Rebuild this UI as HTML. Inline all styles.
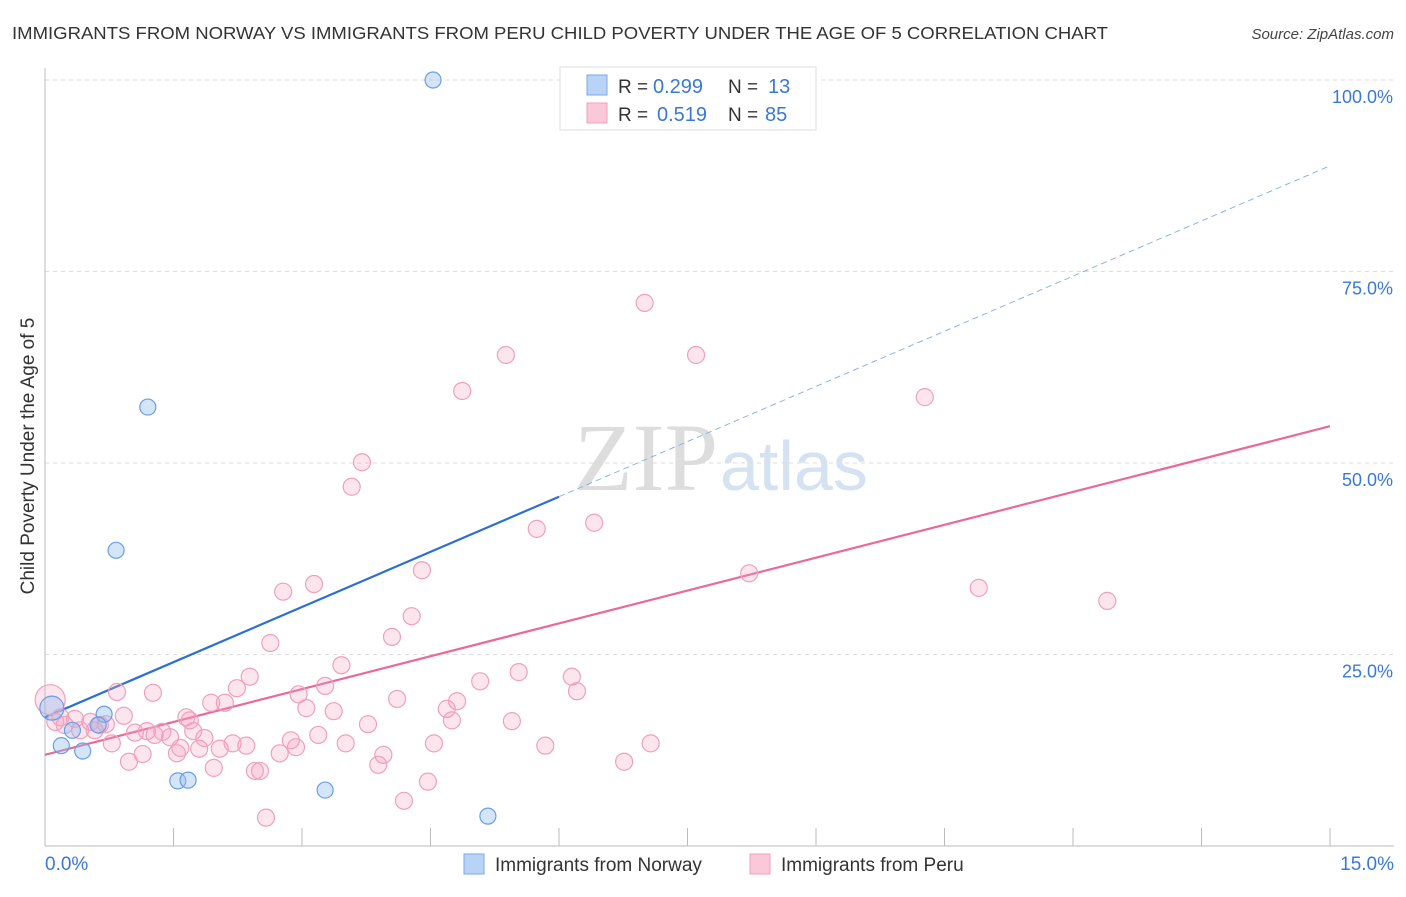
<!DOCTYPE html>
<html><head><meta charset="utf-8"><style>
body{margin:0;background:#fff;font-family:"Liberation Sans",sans-serif;}
</style></head><body>
<svg width="1406" height="892" xmlns="http://www.w3.org/2000/svg" font-family="Liberation Sans, sans-serif">
<text x="12" y="39" font-size="17.5" fill="#333" textLength="1096" lengthAdjust="spacingAndGlyphs">IMMIGRANTS FROM NORWAY VS IMMIGRANTS FROM PERU CHILD POVERTY UNDER THE AGE OF 5 CORRELATION CHART</text>
<text x="1394" y="39" font-size="15" fill="#444" text-anchor="end" font-style="italic">Source: ZipAtlas.com</text>
<text x="718" y="490" font-size="96" text-anchor="end" fill="#ddd" font-family="Liberation Serif, serif">ZIP</text>
<text x="720" y="490" font-size="70" fill="#d5e2f2">atlas</text>
<g id="grid"></g>
<g id="axes"></g>
<g id="lines"></g>
<g id="pts"></g>
<text transform="translate(34,456) rotate(-90)" font-size="19" fill="#333" text-anchor="middle">Child Poverty Under the Age of 5</text>
<g>
<rect x="560" y="67" width="256" height="63" fill="#fff" stroke="#ddd"/>
<rect x="587" y="75" width="20" height="20" fill="#b9d3f6" stroke="#7aa8e8"/>
<rect x="587" y="103" width="20" height="20" fill="#fac8d8" stroke="#f0a0bc"/>
<text x="618" y="93" font-size="19" fill="#333">R =</text>
<text x="653" y="93" font-size="20" fill="#3a78d8">0.299</text>
<text x="728" y="93" font-size="19" fill="#333">N =</text>
<text x="768" y="93" font-size="20" fill="#3a78d8">13</text>
<text x="618" y="121" font-size="19" fill="#333">R =</text>
<text x="657" y="121" font-size="20" fill="#3a78d8">0.519</text>
<text x="728" y="121" font-size="19" fill="#333">N =</text>
<text x="765" y="121" font-size="20" fill="#3a78d8">85</text>
</g>
<g>
<rect x="464" y="854" width="20" height="20" fill="#b9d3f6" stroke="#7aa8e8"/>
<text x="495" y="871" font-size="19" fill="#333">Immigrants from Norway</text>
<rect x="750" y="854" width="20" height="20" fill="#fac8d8" stroke="#f0a0bc"/>
<text x="781" y="871" font-size="19" fill="#333">Immigrants from Peru</text>
</g>
</svg>
<script>
const norwayX=[4.53,1.20,0.83,0.08,0.19,0.32,0.44,0.69,0.62,1.55,1.67,3.27,5.17];
const norwayY=[100,57.3,38.6,18.0,13.1,15.1,12.4,17.2,15.8,8.5,8.6,7.3,3.9];
const peruX=[7.00,5.38,7.60,4.87,10.27,3.70,3.58,5.74,6.41,4.40,8.22,10.90,12.40,3.14,2.78,4.28,4.05,2.63,3.46,5.53,6.15,5.08,2.39,6.21,3.27,2.24,2.96,4.81,4.11,1.26,0.84,1.94,2.10,3.05,3.37,4.69,1.65,0.92,4.75,5.45,3.77,0.18,0.35,0.53,0.71,1.05,1.19,1.37,1.46,1.73,1.86,3.19,2.87,2.19,2.35,2.93,3.51,4.54,5.84,7.07,0.78,1.58,1.80,2.04,2.74,3.95,0.98,1.14,1.54,3.89,1.97,2.45,2.51,6.76,4.47,4.19,2.58,0.06,0.12,0.23,0.64,0.58,0.41,1.28,1.69];
const peruY=[70.9,64.1,64.1,59.4,58.6,50.1,46.9,41.4,42.2,36.0,35.6,33.7,32.0,34.2,33.2,30.0,27.3,26.5,23.6,22.7,22.1,21.5,22.1,20.2,20.9,20.6,19.8,18.9,19.2,20.0,20.1,18.7,18.7,18.0,17.6,17.9,16.8,17.0,16.4,16.3,15.9,16.8,16.6,16.2,15.9,14.8,15.0,14.9,14.2,15.0,14.1,14.5,13.8,13.4,13.1,12.9,13.4,13.4,13.1,13.4,13.4,12.8,12.7,12.7,12.1,11.9,11.0,12.0,12.1,10.6,10.2,9.8,9.8,11.0,8.4,5.9,3.7,19.1,16.2,15.8,15.8,15.1,15.1,14.5,16.4];
const norwayTrend=[16.8,88.8];
const peruTrend=[11.9,54.8];
const yTicks=[25,50,75,100];
const yTickLabels=["25.0%","50.0%","75.0%","100.0%"];
const NS="http://www.w3.org/2000/svg";
const sx=v=>45+v/15*1285, sy=v=>846-v/100*766;
function mk(p,t,a){const e=document.createElementNS(NS,t);for(const k in a)e.setAttribute(k,a[k]);p.appendChild(e);return e;}
const g=document.getElementById('grid'),ax=document.getElementById('axes'),ln=document.getElementById('lines'),pt=document.getElementById('pts');
yTicks.forEach((v,i)=>{
 const l=mk(g,'line',{x1:45,x2:1394,y1:sy(v),y2:sy(v),stroke:'#ddd','stroke-dasharray':'4,4'});
 
 
 const t=mk(g,'text',{x:1393,y:sy(v)+23,'font-size':18,fill:'#3a78d8','text-anchor':'end'});
 t.textContent=yTickLabels[i];
 
 
});
mk(ax,'line',{x1:45,x2:45,y1:68,y2:846,stroke:'#bbb'});
mk(ax,'line',{x1:45,x2:1394,y1:846,y2:846,stroke:'#bbb'});
for(let i=0;i<=10;i++){const l=mk(ax,'line',{x1:sx(i*1.5),x2:sx(i*1.5),y1:828,y2:846,stroke:'#bbb'});
 
 }
let t0=mk(ax,'text',{x:45,y:870,'font-size':19,fill:'#3a78d8'});t0.textContent='0.0%';


let t1=mk(ax,'text',{x:1394,y:870,'font-size':19,fill:'#3a78d8','text-anchor':'end'});t1.textContent='15.0%';


const nb=norwayTrend[0]+(norwayTrend[1]-norwayTrend[0])*6/15;
let a=mk(ln,'line',{x1:sx(0),y1:sy(norwayTrend[0]),x2:sx(6),y2:sy(nb),stroke:'#2b6fd6','stroke-width':2.2});


let b=mk(ln,'line',{x1:sx(6),y1:sy(nb),x2:sx(15),y2:sy(norwayTrend[1]),stroke:'#8fb2e6','stroke-width':1,'stroke-dasharray':'6,4'});


let c=mk(ln,'line',{x1:sx(0),y1:sy(peruTrend[0]),x2:sx(15),y2:sy(peruTrend[1]),stroke:'#e8699a','stroke-width':2.2});


peruX.forEach((x,i)=>{const big=i==77;const e=mk(pt,'circle',{cx:sx(x),cy:sy(peruY[i]),r:big?15:8.5,fill:'rgba(246,160,190,0.28)',stroke:'#f0a0bc','stroke-width':1.2});
 
 });
norwayX.forEach((x,i)=>{const big=i==3;const e=mk(pt,'circle',{cx:sx(x),cy:sy(norwayY[i]),r:big?12:8,fill:'rgba(150,190,240,0.4)',stroke:'#6a9ee6','stroke-width':1.2});
 
 });
</script>
</body></html>
